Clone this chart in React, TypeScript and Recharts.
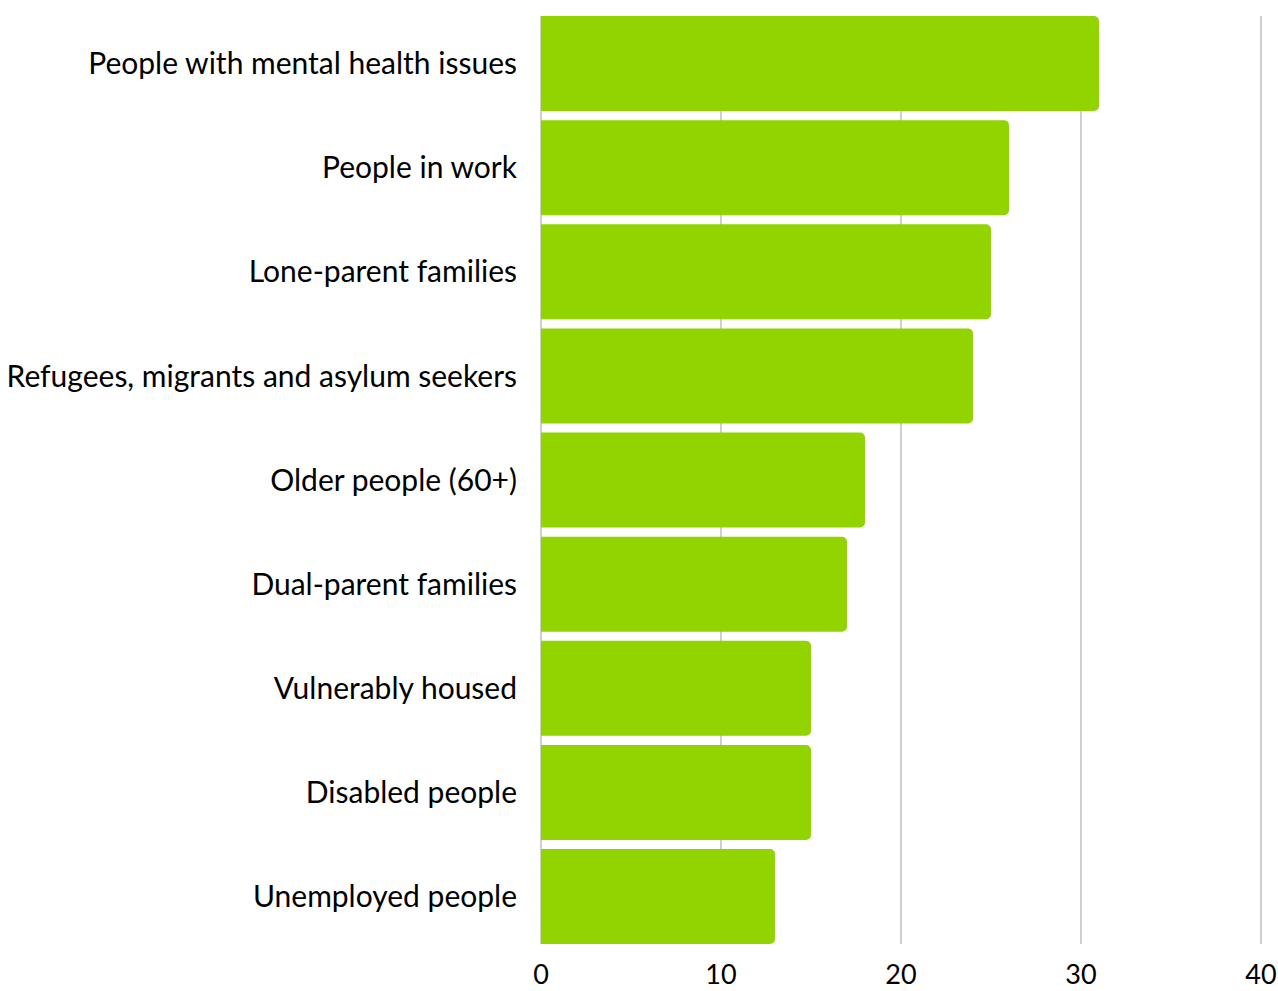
import React from "react";
import { BarChart, Bar, XAxis, YAxis, CartesianGrid } from "recharts";

const categories = [
  "People with mental health issues",
  "People in work",
  "Lone-parent families",
  "Refugees, migrants and asylum seekers",
  "Older people (60+)",
  "Dual-parent families",
  "Vulnerably housed",
  "Disabled people",
  "Unemployed people",
];
const values = [31, 26, 25, 24, 18, 17, 15, 15, 13];
const xTicks = [0, 10, 20, 30, 40];

const data = categories.map((name, i) => ({ name, value: values[i] }));

const FONT = "Lato, 'Open Sans', sans-serif";

export default function App() {
  return (
    <div style={{ position: "absolute", left: 0, top: 0, width: 1278, height: 991, background: "#fff" }}>
      <BarChart
        width={1278}
        height={991}
        data={data}
        layout="vertical"
        margin={{ top: 16, right: 17, bottom: 0, left: 0 }}
        barCategoryGap={4.6}
      >
        <CartesianGrid horizontal={false} vertical stroke="#c4c4c4" strokeWidth={1.6} />
        <XAxis
          type="number"
          domain={[0, 40]}
          ticks={xTicks}
          axisLine={false}
          tickLine={false}
          tickSize={0}
          tickMargin={21}
          height={47}
          interval={0}
          tick={{ fill: "#000", fontSize: 27, fontFamily: FONT }}
        />
        <YAxis
          type="category"
          dataKey="name"
          width={541}
          axisLine={false}
          tickLine={false}
          tickSize={0}
          tickMargin={24}
          padding={{ top: -4.6, bottom: -4.6 }}
          interval={0}
          tick={{ fill: "#000", fontSize: 30, fontFamily: FONT }}
        />
        <Bar dataKey="value" fill="#92D400" radius={[0, 5, 5, 0]} isAnimationActive={false} />
      </BarChart>
    </div>
  );
}
